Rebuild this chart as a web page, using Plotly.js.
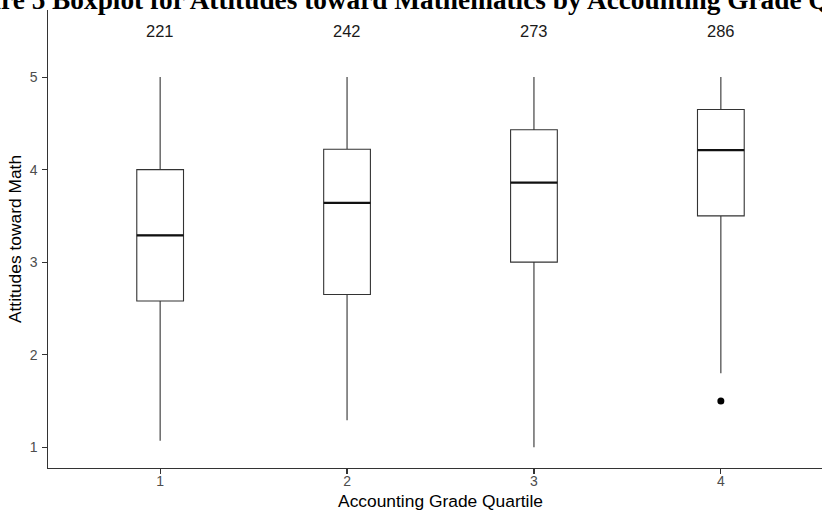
<!DOCTYPE html>
<html>
<head>
<meta charset="utf-8">
<script src="https://cdn.plot.ly/plotly-3.0.1.min.js"></script>
<style>
html,body{margin:0;padding:0;overflow:hidden;background:#fff;width:822px;height:514px;}
#chart{width:860px;height:514px;}
</style>
</head>
<body>
<div id="chart"></div>
<script>
// Data
const quartiles = [1, 2, 3, 4];
const tickLabels = ['1', '2', '3', '4'];
const lowerWhisker = [1.07, 1.29, 1.0, 1.8];
const q1 = [2.58, 2.65, 3.0, 3.5];
const median = [3.29, 3.64, 3.86, 4.21];
const q3 = [4.0, 4.22, 4.43, 4.65];
const upperWhisker = [5.0, 5.0, 5.0, 5.0];
const counts = ['221', '242', '273', '286'];
const outlierX = [4];
const outlierY = [1.5];

const boxWidth = 0.25;
const lineCol = '#333333';

const traces = [{
  type: 'box',
  x: quartiles,
  q1: q1,
  median: median,
  q3: q3,
  lowerfence: lowerWhisker,
  upperfence: upperWhisker,
  width: boxWidth,
  whiskerwidth: 0,
  boxpoints: false,
  fillcolor: 'white',
  line: {color: lineCol, width: 1.1},
  hoverinfo: 'skip',
  showlegend: false
}];

// thicker median lines (ggplot style)
quartiles.forEach((q, i) => {
  traces.push({
    type: 'scatter', mode: 'lines',
    x: [q - boxWidth / 2, q + boxWidth / 2],
    y: [median[i], median[i]],
    line: {color: '#111111', width: 2.3},
    hoverinfo: 'skip', showlegend: false
  });
});

traces.push({
  type: 'scatter', mode: 'markers',
  x: outlierX, y: outlierY,
  marker: {color: '#000', size: 7},
  hoverinfo: 'skip', showlegend: false
});

const annotations = quartiles.map((q, i) => ({
  x: q, y: 5.5, xref: 'x', yref: 'y',
  text: counts[i], showarrow: false,
  font: {family: 'Liberation Sans, Arial, sans-serif', size: 16.5, color: '#1a1a1a'}
}));

annotations.push({
  xref: 'paper', yref: 'paper', x: 0, y: 1,
  xanchor: 'left', yanchor: 'middle',
  xshift: -102, yshift: 10,
  text: '<b>Figure 5 Boxplot for Attitudes toward Mathematics by Accounting Grade Quartile</b>',
  showarrow: false,
  font: {family: 'Liberation Serif, Times New Roman, serif', size: 27.3, color: '#000'}
});

const axisCommon = {
  showgrid: false, zeroline: false,
  showline: true, linecolor: lineCol, linewidth: 1.1,
  ticks: 'outside', ticklen: 4.5, tickwidth: 1.1, tickcolor: lineCol,
  tickfont: {family: 'Liberation Sans, Arial, sans-serif', size: 14, color: '#4d4d4d'}
};

const layout = {
  width: 860, height: 514,
  margin: {l: 48, r: 27, t: 10, b: 46},
  paper_bgcolor: 'white', plot_bgcolor: 'white',
  showlegend: false,
  xaxis: Object.assign({}, axisCommon, {
    range: [0.4, 4.6],
    tickvals: quartiles, ticktext: tickLabels,
    ticklabelstandoff: -4,
    title: {text: 'Accounting Grade Quartile', standoff: 6,
      font: {family: 'Liberation Sans, Arial, sans-serif', size: 17.4, color: '#000'}}
  }),
  yaxis: Object.assign({}, axisCommon, {
    range: [0.775, 5.725],
    tickvals: [1, 2, 3, 4, 5],
    ticklabelstandoff: 2,
    title: {text: 'Attitudes toward Math', standoff: 3,
      font: {family: 'Liberation Sans, Arial, sans-serif', size: 17.4, color: '#000'}}
  }),
  annotations: annotations
};

Plotly.newPlot('chart', traces, layout, {displayModeBar: false, staticPlot: true});
</script>
</body>
</html>
